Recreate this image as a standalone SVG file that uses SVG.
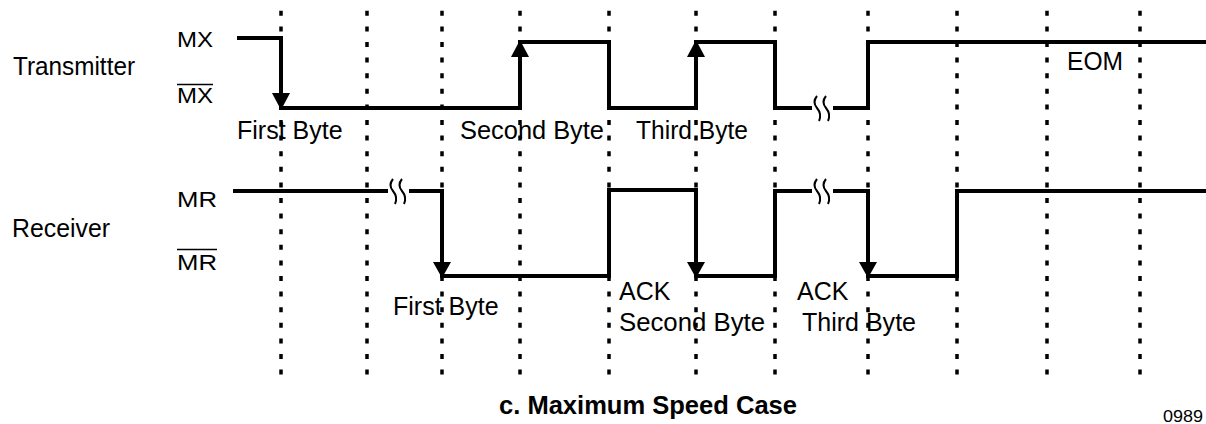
<svg xmlns="http://www.w3.org/2000/svg" width="1206" height="424" viewBox="0 0 1206 424">
<style>
.bg{fill:#fff}
.grid{stroke:#000;stroke-width:3.5;stroke-dasharray:5 10.6;fill:none}
.wave{stroke:#000;stroke-width:4;fill:none;stroke-linejoin:miter;stroke-linecap:butt}
.arr{fill:#000}
.brk{stroke:#000;stroke-width:2;fill:none}
.bar{stroke:#000;stroke-width:1.6}
text{font-family:"Liberation Sans",Arial,sans-serif;fill:#000}
.lbl{font-size:25px}
.sig{font-size:22px}
.title{font-size:26px;font-weight:bold}
.code{font-size:16px}
</style>
<rect class="bg" x="0" y="0" width="1206" height="424"/>
<g id="grid">
<line class="grid" x1="281" y1="10.8" x2="281" y2="375"/>
<line class="grid" x1="367" y1="10.8" x2="367" y2="375"/>
<line class="grid" x1="442" y1="10.8" x2="442" y2="375"/>
<line class="grid" x1="520" y1="10.8" x2="520" y2="375"/>
<line class="grid" x1="609" y1="10.8" x2="609" y2="375"/>
<line class="grid" x1="696" y1="10.8" x2="696" y2="375"/>
<line class="grid" x1="775" y1="10.8" x2="775" y2="375"/>
<line class="grid" x1="868" y1="10.8" x2="868" y2="375"/>
<line class="grid" x1="957" y1="10.8" x2="957" y2="375"/>
<line class="grid" x1="1047" y1="10.8" x2="1047" y2="375"/>
<line class="grid" x1="1140" y1="10.8" x2="1140" y2="375"/>
</g>
<g id="transmitter-labels">
<text class="lbl" x="13" y="75" font-size="24" textLength="122" lengthAdjust="spacingAndGlyphs">Transmitter</text>
<text class="sig" x="177" y="46.5" textLength="36" lengthAdjust="spacingAndGlyphs">MX</text>
<text class="sig" x="177" y="103" textLength="36" lengthAdjust="spacingAndGlyphs">MX</text>
<line class="bar" x1="177" y1="84.5" x2="213" y2="84.5"/>
</g>
<g id="receiver-labels">
<text class="lbl" x="12" y="236.5" textLength="98" lengthAdjust="spacingAndGlyphs">Receiver</text>
<text class="sig" x="177" y="206.5" textLength="40" lengthAdjust="spacingAndGlyphs">MR</text>
<text class="sig" x="177" y="270" textLength="40" lengthAdjust="spacingAndGlyphs">MR</text>
<line class="bar" x1="177" y1="249.5" x2="217" y2="249.5"/>
</g>
<g id="transmitter-wave">
<path class="wave" d="M237 38 H281 V108 H520 V42 H609 V108 H696 V42 H775 V108 H812"/>
<path class="wave" d="M833 108 H868 V42 H1206"/>
<polygon class="arr" points="272,93 290,93 281,110"/>
<polygon class="arr" points="511,57 529,57 520,40"/>
<polygon class="arr" points="687,57 705,57 696,40"/>
<path class="brk" d="M817 96 q-5 6 0 12 t 2 13"/>
<path class="brk" d="M826 96 q-5 6 0 12 t 2 13"/>
</g>
<g id="receiver-wave">
<path class="wave" d="M233 191 H388"/>
<path class="wave" d="M409 191 H442 V276 H609 V190 H696 V276 H775 V191 H812"/>
<path class="wave" d="M833 191 H868 V276 H957 V191 H1206"/>
<polygon class="arr" points="433,262 451,262 442,278"/>
<polygon class="arr" points="687,262 705,262 696,278"/>
<polygon class="arr" points="859,262 877,262 868,278"/>
<path class="brk" d="M393 179 q-5 6 0 12 t 2 13"/>
<path class="brk" d="M402 179 q-5 6 0 12 t 2 13"/>
<path class="brk" d="M817 179 q-5 6 0 12 t 2 13"/>
<path class="brk" d="M826 179 q-5 6 0 12 t 2 13"/>
</g>
<g id="transmitter-events">
<text class="lbl" x="237" y="139">First Byte</text>
<text class="lbl" x="460" y="139" textLength="144" lengthAdjust="spacingAndGlyphs">Second Byte</text>
<text class="lbl" x="636" y="139" textLength="112" lengthAdjust="spacingAndGlyphs">Third Byte</text>
<text class="lbl" x="1067" y="70" textLength="56" lengthAdjust="spacingAndGlyphs">EOM</text>
</g>
<g id="receiver-events">
<text class="lbl" x="393" y="315">First Byte</text>
<text class="lbl" x="619" y="300">ACK</text>
<text class="lbl" x="619" y="331" textLength="146" lengthAdjust="spacingAndGlyphs">Second Byte</text>
<text class="lbl" x="797" y="300">ACK</text>
<text class="lbl" x="802" y="331" textLength="114" lengthAdjust="spacingAndGlyphs">Third Byte</text>
</g>
<g id="caption">
<text class="title" x="499" y="414" textLength="298" lengthAdjust="spacingAndGlyphs">c. Maximum Speed Case</text>
<text class="code" x="1163" y="422" textLength="40" lengthAdjust="spacingAndGlyphs">0989</text>
</g>
</svg>
